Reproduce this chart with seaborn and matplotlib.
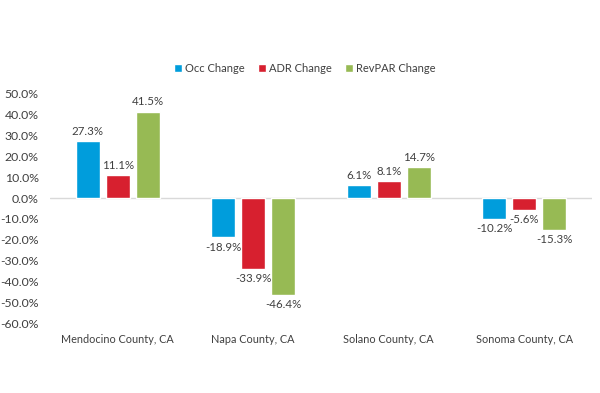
import matplotlib
matplotlib.use("Agg")
import matplotlib.pyplot as plt
import seaborn as sns
import pandas as pd

counties = ["Mendocino County, CA", "Napa County, CA", "Solano County, CA", "Sonoma County, CA"]
metrics = ["Occ Change", "ADR Change", "RevPAR Change"]
occ_change = [27.3, -18.9, 6.1, -10.2]
adr_change = [11.1, -33.9, 8.1, -5.6]
revpar_change = [41.5, -46.4, 14.7, -15.3]
colors = ["#009DDC", "#D7202F", "#97BA54"]
y_ticks = [50, 40, 30, 20, 10, 0, -10, -20, -30, -40, -50, -60]

df = pd.DataFrame({
    "county": counties * 3,
    "metric": [m for m in metrics for _ in counties],
    "value": occ_change + adr_change + revpar_change,
})

sns.set_style("white")
plt.rcParams["font.family"] = ["Lato", "DejaVu Sans"]
text_color = "#404040"

fig = plt.figure(figsize=(6, 3.93), dpi=100)
ax = fig.add_axes([0.083, 0.178, 0.904, 0.583])

sns.barplot(data=df, x="county", y="value", hue="metric", order=counties,
            hue_order=metrics, palette=colors, width=0.664, gap=0.2,
            saturation=1, ax=ax, legend=True)

for container in ax.containers:
    labels = [f"{b.get_height():.1f}%" for b in container]
    ax.bar_label(container, labels=labels, padding=3, fontsize=8.3, color=text_color)

ax.set_ylim(-60, 50)
ax.set_xlim(-0.5, 3.5)
ax.set_yticks(y_ticks)
ax.set_yticklabels([f"{t:.1f}%" for t in y_ticks])
ax.axhline(0, color="#D9D9D9", linewidth=1, zorder=0)
for s in ax.spines.values():
    s.set_visible(False)
ax.set_xlabel("")
ax.set_ylabel("")
ax.tick_params(axis="both", length=0, labelcolor=text_color)
ax.tick_params(axis="x", pad=8, labelsize=7.8)
ax.tick_params(axis="y", pad=8, labelsize=8.8)

handles, lbls = ax.get_legend_handles_labels()
ax.legend(handles, lbls, loc="center", bbox_to_anchor=(305 / 600, 1 - 68 / 393),
          bbox_transform=fig.transFigure, ncol=3, frameon=False, fontsize=8,
          handlelength=0.7, handleheight=0.7, handletextpad=0.3, columnspacing=1.2,
          labelcolor=text_color)

fig.savefig("out.png", dpi=100)
